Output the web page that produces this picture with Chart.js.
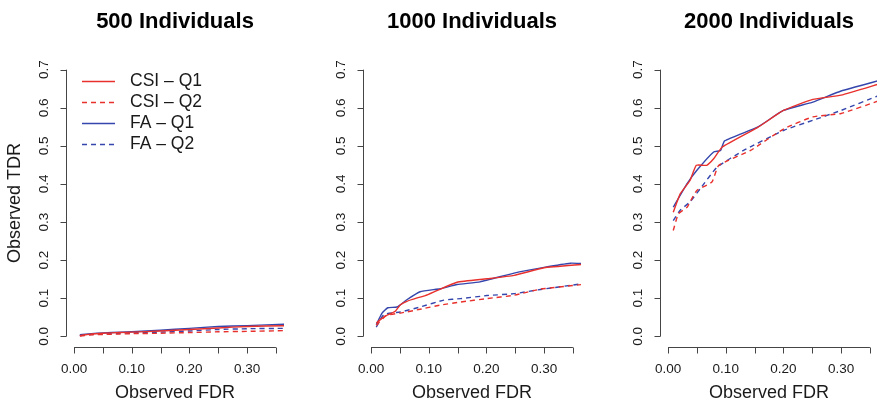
<!DOCTYPE html>
<html>
<head>
<meta charset="utf-8">
<script src="https://cdn.jsdelivr.net/npm/chart.js@4.4.1/dist/chart.umd.min.js"></script>
<style>
    html, body { margin: 0; padding: 0; background: #fff; overflow: hidden; }
    #wrap { position: relative; width: 877px; height: 405px; overflow: hidden; }
    .panel { position: absolute; top: 0; width: 297px; height: 405px; }
</style>
</head>
<body>
<div id="wrap">
    <div class="panel" style="left:0px"><canvas id="p500" width="297" height="405"></canvas></div>
    <div class="panel" style="left:297px"><canvas id="p1000" width="297" height="405"></canvas></div>
    <div class="panel" style="left:594px"><canvas id="p2000" width="297" height="405"></canvas></div>
</div>
<script>
// axis ticks
const xTicks = [0, 0.05, 0.10, 0.15, 0.20, 0.25, 0.30, 0.35];
const xTickLabels = ['0.00', '', '0.10', '', '0.20', '', '0.30', ''];
const yTicks = [0, 0.1, 0.2, 0.3, 0.4, 0.5, 0.6, 0.7];
const yTickLabels = ['0.0', '0.1', '0.2', '0.3', '0.4', '0.5', '0.6', '0.7'];

const seriesNames = ['CSI \u2013 Q1', 'CSI \u2013 Q2', 'FA \u2013 Q1', 'FA \u2013 Q2'];
const panelTitles = ['500 Individuals', '1000 Individuals', '2000 Individuals'];

// 500 individuals
const n500CsiQ1X = [0.01, 0.03, 0.05, 0.08, 0.10, 0.15, 0.20, 0.25, 0.30, 0.366];
const n500CsiQ1Y = [0.002, 0.006, 0.008, 0.010, 0.011, 0.014, 0.018, 0.022, 0.026, 0.028];
const n500CsiQ2X = [0.01, 0.03, 0.05, 0.08, 0.10, 0.15, 0.20, 0.25, 0.30, 0.366];
const n500CsiQ2Y = [0.001, 0.004, 0.005, 0.006, 0.007, 0.008, 0.010, 0.012, 0.013, 0.015];
const n500FaQ1X = [0.01, 0.03, 0.05, 0.08, 0.10, 0.15, 0.20, 0.25, 0.30, 0.366];
const n500FaQ1Y = [0.004, 0.007, 0.009, 0.011, 0.012, 0.016, 0.021, 0.026, 0.028, 0.032];
const n500FaQ2X = [0.01, 0.03, 0.05, 0.08, 0.10, 0.15, 0.20, 0.25, 0.30, 0.366];
const n500FaQ2Y = [0.002, 0.005, 0.006, 0.008, 0.009, 0.011, 0.014, 0.018, 0.020, 0.021];

// 1000 individuals
const n1000CsiQ1X = [0.009, 0.024, 0.042, 0.051, 0.062, 0.080, 0.094, 0.114, 0.149, 0.201, 0.248, 0.300, 0.366];
const n1000CsiQ1Y = [0.035, 0.053, 0.066, 0.083, 0.092, 0.101, 0.107, 0.120, 0.142, 0.151, 0.160, 0.180, 0.189];
const n1000CsiQ2X = [0.009, 0.027, 0.051, 0.085, 0.120, 0.155, 0.201, 0.248, 0.294, 0.366];
const n1000CsiQ2Y = [0.029, 0.055, 0.061, 0.071, 0.082, 0.090, 0.099, 0.108, 0.124, 0.136];
const n1000FaQ1X = [0.009, 0.019, 0.029, 0.045, 0.062, 0.085, 0.120, 0.149, 0.189, 0.248, 0.300, 0.346, 0.366];
const n1000FaQ1Y = [0.031, 0.061, 0.075, 0.077, 0.096, 0.117, 0.125, 0.136, 0.143, 0.166, 0.181, 0.192, 0.191];
const n1000FaQ2X = [0.009, 0.022, 0.051, 0.085, 0.126, 0.155, 0.201, 0.248, 0.294, 0.366];
const n1000FaQ2Y = [0.024, 0.057, 0.064, 0.077, 0.095, 0.099, 0.107, 0.112, 0.123, 0.138];

// 2000 individuals
const n2000CsiQ1X = [0.009, 0.021, 0.038, 0.049, 0.067, 0.079, 0.094, 0.155, 0.200, 0.251, 0.300, 0.367];
const n2000CsiQ1Y = [0.326, 0.374, 0.409, 0.449, 0.449, 0.466, 0.497, 0.548, 0.593, 0.622, 0.633, 0.663];
const n2000CsiQ2X = [0.009, 0.018, 0.033, 0.041, 0.050, 0.076, 0.088, 0.143, 0.201, 0.251, 0.300, 0.367];
const n2000CsiQ2Y = [0.278, 0.322, 0.339, 0.361, 0.383, 0.405, 0.449, 0.488, 0.545, 0.576, 0.585, 0.619];
const n2000FaQ1X = [0.009, 0.033, 0.050, 0.079, 0.091, 0.098, 0.155, 0.200, 0.251, 0.300, 0.367];
const n2000FaQ1Y = [0.339, 0.401, 0.436, 0.484, 0.488, 0.513, 0.549, 0.593, 0.615, 0.644, 0.672];
const n2000FaQ2X = [0.009, 0.021, 0.038, 0.056, 0.085, 0.131, 0.201, 0.251, 0.300, 0.367];
const n2000FaQ2Y = [0.304, 0.331, 0.353, 0.388, 0.444, 0.488, 0.541, 0.567, 0.593, 0.633];

const RED = '#e8302c';
const BLUE = '#3546ad';
const AXIS = '#454545';
const TEXT = '#1a1a1a';
const FONT = '"Liberation Sans", Arial, Helvetica, sans-serif';

function points(xs, ys) {
    return xs.map((x, i) => ({ x: x, y: ys[i] }));
}

function makeDatasets(csiQ1, csiQ2, faQ1, faQ2) {
    const base = { showLine: true, pointRadius: 0, borderWidth: 1.4, tension: 0.15, fill: false };
    return [
        Object.assign({ label: seriesNames[0], data: csiQ1, borderColor: RED, borderDash: [] }, base),
        Object.assign({ label: seriesNames[1], data: csiQ2, borderColor: RED, borderDash: [5, 4] }, base),
        Object.assign({ label: seriesNames[2], data: faQ1, borderColor: BLUE, borderDash: [] }, base),
        Object.assign({ label: seriesNames[3], data: faQ2, borderColor: BLUE, borderDash: [5, 4] }, base)
    ];
}

// R style axes, titles and legend drawn from the chart's scales
const baseAxesPlugin = {
    id: 'baseAxes',
    afterDraw(chart, args, opts) {
        const ctx = chart.ctx;
        const xs = chart.scales.x;
        const ys = chart.scales.y;
        const area = chart.chartArea;
        ctx.save();
        ctx.strokeStyle = AXIS;
        ctx.lineWidth = 1;

        // x axis
        const axY = Math.round(area.bottom) + 0.5;
        ctx.beginPath();
        ctx.moveTo(xs.getPixelForValue(xTicks[0]), axY);
        ctx.lineTo(xs.getPixelForValue(xTicks[xTicks.length - 1]), axY);
        xTicks.forEach(v => {
            const px = Math.round(xs.getPixelForValue(v)) + 0.5;
            ctx.moveTo(px, axY);
            ctx.lineTo(px, axY + 6);
        });
        ctx.stroke();

        ctx.fillStyle = TEXT;
        ctx.font = '13.5px ' + FONT;
        ctx.textAlign = 'center';
        ctx.textBaseline = 'middle';
        xTicks.forEach((v, i) => {
            if (xTickLabels[i]) ctx.fillText(xTickLabels[i], xs.getPixelForValue(v), axY + 22);
        });

        // y axis
        const axX = Math.round(area.left) + 0.5;
        ctx.beginPath();
        ctx.moveTo(axX, ys.getPixelForValue(yTicks[0]));
        ctx.lineTo(axX, ys.getPixelForValue(yTicks[yTicks.length - 1]));
        yTicks.forEach(v => {
            const py = Math.round(ys.getPixelForValue(v)) + 0.5;
            ctx.moveTo(axX, py);
            ctx.lineTo(axX - 6, py);
        });
        ctx.stroke();

        yTicks.forEach((v, i) => {
            ctx.save();
            ctx.translate(axX - 22, ys.getPixelForValue(v));
            ctx.rotate(-Math.PI / 2);
            ctx.fillText(yTickLabels[i], 0, 0);
            ctx.restore();
        });

        const midX = (area.left + area.right) / 2;
        const midY = (area.top + area.bottom) / 2;

        // panel title
        ctx.font = 'bold 22px ' + FONT;
        ctx.fillStyle = '#000';
        ctx.fillText(opts.title, midX, 22);

        // axis titles
        ctx.font = '18px ' + FONT;
        ctx.fillStyle = TEXT;
        ctx.fillText('Observed FDR', midX, 393);
        if (opts.yTitle) {
            ctx.save();
            ctx.translate(15, midY);
            ctx.rotate(-Math.PI / 2);
            ctx.fillText('Observed TDR', 0, 0);
            ctx.restore();
        }

        // legend
        if (opts.legend) {
            ctx.font = '17.5px ' + FONT;
            ctx.textAlign = 'left';
            chart.data.datasets.forEach((ds, i) => {
                const rowY = 81 + i * 21;
                ctx.save();
                ctx.strokeStyle = ds.borderColor;
                ctx.lineWidth = ds.borderWidth;
                ctx.setLineDash(ds.borderDash);
                ctx.beginPath();
                ctx.moveTo(82, rowY + 0.5);
                ctx.lineTo(115, rowY + 0.5);
                ctx.stroke();
                ctx.restore();
                ctx.fillText(ds.label, 130, rowY);
            });
        }
        ctx.restore();
    }
};

function makePanel(id, datasets, opts) {
    return new Chart(document.getElementById(id), {
        type: 'scatter',
        data: { datasets: datasets },
        options: {
            responsive: false,
            animation: false,
            events: [],
            layout: { padding: { left: 66, right: 13, top: 59, bottom: 58 } },
            scales: {
                x: { type: 'linear', min: -0.014, max: 0.364, display: false },
                y: { type: 'linear', min: -0.028, max: 0.728, display: false }
            },
            plugins: {
                legend: { display: false },
                tooltip: { enabled: false },
                baseAxes: opts
            }
        },
        plugins: [baseAxesPlugin]
    });
}

makePanel('p500', makeDatasets(
    points(n500CsiQ1X, n500CsiQ1Y), points(n500CsiQ2X, n500CsiQ2Y),
    points(n500FaQ1X, n500FaQ1Y), points(n500FaQ2X, n500FaQ2Y)
), { title: panelTitles[0], yTitle: true, legend: true });

makePanel('p1000', makeDatasets(
    points(n1000CsiQ1X, n1000CsiQ1Y), points(n1000CsiQ2X, n1000CsiQ2Y),
    points(n1000FaQ1X, n1000FaQ1Y), points(n1000FaQ2X, n1000FaQ2Y)
), { title: panelTitles[1], yTitle: false, legend: false });

makePanel('p2000', makeDatasets(
    points(n2000CsiQ1X, n2000CsiQ1Y), points(n2000CsiQ2X, n2000CsiQ2Y),
    points(n2000FaQ1X, n2000FaQ1Y), points(n2000FaQ2X, n2000FaQ2Y)
), { title: panelTitles[2], yTitle: false, legend: false });
</script>
</body>
</html>
